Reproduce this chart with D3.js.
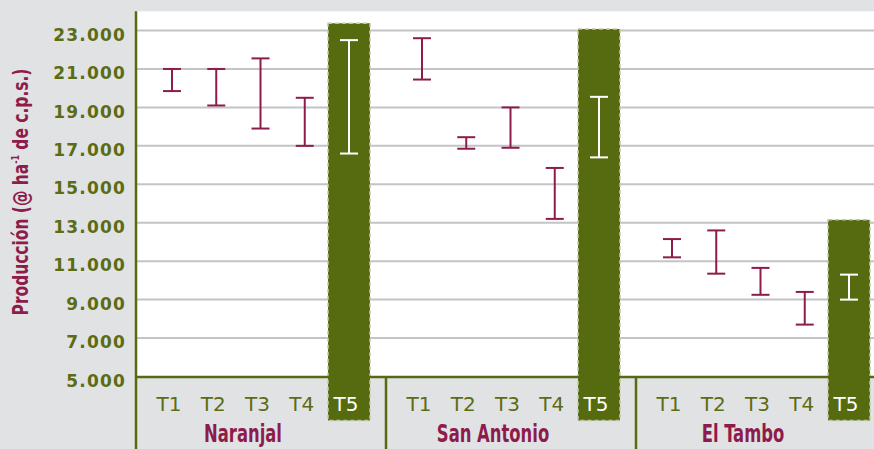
<!DOCTYPE html>
<html>
<head>
<meta charset="utf-8">
<script src="https://cdn.jsdelivr.net/npm/d3@7"></script>
<style>
  html, body { margin: 0; padding: 0; background: #e1e2e4; }
  svg { display: block; }
</style>
</head>
<body>
<svg id="chart" width="874" height="449"></svg>
<script>
// ---- data ----
const groups = ["Naranjal", "San Antonio", "El Tambo"];
const treatments = ["T1", "T2", "T3", "T4", "T5"];
// error-bar ranges [low, high] per group, per treatment (c.p.s. @ ha-1)
const lowNaranjal = [19850, 19100, 17900, 17000, 16600];
const highNaranjal = [21000, 21000, 21550, 19500, 22500];
const lowSanAntonio = [20450, 16850, 16900, 13200, 16400];
const highSanAntonio = [22600, 17450, 19000, 15850, 19550];
const lowElTambo = [11200, 10350, 9250, 7700, 9000];
const highElTambo = [12150, 12600, 10650, 9400, 10300];
// T5 column heights
const barT5 = [23380, 23080, 13150];
const yTicks = [5000, 7000, 9000, 11000, 13000, 15000, 17000, 19000, 21000, 23000];

const lows = [lowNaranjal, lowSanAntonio, lowElTambo];
const highs = [highNaranjal, highSanAntonio, highElTambo];

// ---- styles ----
const OLIVE = "#566b10";
const OLIVE_TXT = "#5b6c15";
const CRIMSON = "#8d1c4b";
const GRID = "#c4c4c8";
const BG = "#e1e2e4";
const COND = "Liberation Sans Narrow, DejaVu Sans Condensed, sans-serif";

const W = 874, H = 449;
const axisX = 136;
const svg = d3.select("#chart");

const y = d3.scaleLinear().domain([5000, 24000]).range([376.5, 11.3]);
const xGroup = d3.scaleBand().domain(groups).range([axisX, axisX + 750]).padding(0);
const xT = d3.scalePoint().domain(treatments).range([36, 213]);

const baseY = y(5000);
const barBottom = baseY + 44;

// background
svg.append("rect").attr("width", W).attr("height", H).attr("fill", BG);
// plot area
svg.append("rect")
  .attr("x", axisX).attr("y", y(24000))
  .attr("width", W - axisX).attr("height", baseY - y(24000))
  .attr("fill", "#ffffff");

// gridlines
svg.append("g").selectAll("line")
  .data(yTicks.filter(d => d > 5000))
  .join("line")
  .attr("x1", axisX).attr("x2", W)
  .attr("y1", d => y(d)).attr("y2", d => y(d))
  .attr("stroke", GRID).attr("stroke-width", 2);

// y tick labels
svg.append("g").selectAll("text")
  .data(yTicks)
  .join("text")
  .attr("x", 126)
  .attr("y", d => y(d) + 4)
  .attr("dy", "0.36em")
  .attr("text-anchor", "end")
  .attr("font-family", "DejaVu Sans")
  .attr("font-weight", "bold")
  .attr("font-size", 17)
  .attr("letter-spacing", 1.2)
  .attr("fill", OLIVE_TXT)
  .text(d => d3.format(",")(d).replace(/,/g, "."));

// y title
svg.append("text")
  .attr("transform", `translate(28,192) rotate(-90) scale(0.8,1)`)
  .attr("text-anchor", "middle")
  .attr("font-family", COND)
  .attr("font-weight", "bold")
  .attr("font-size", 21.5)
  .attr("fill", CRIMSON)
  .call(t => {
    t.append("tspan").text("Producción (@ ha");
    t.append("tspan").attr("font-size", 11).attr("dy", -9).text("-1");
    t.append("tspan").attr("dy", 9).text(" de c.p.s.)");
  });

// groups
groups.forEach((g, gi) => {
  const gx = xGroup(g);
  const G = svg.append("g").attr("transform", `translate(${gx},0)`);

  // T5 column
  G.append("rect")
    .attr("x", xT("T5") - 21)
    .attr("y", y(barT5[gi]))
    .attr("width", 42)
    .attr("height", barBottom - y(barT5[gi]))
    .attr("fill", OLIVE)
    .attr("stroke", "#c3c9a6")
    .attr("stroke-width", 1.5)
    .attr("stroke-dasharray", "4,3");

  // error bars
  treatments.forEach((t, ti) => {
    const cx = xT(t);
    const col = t === "T5" ? "#ffffff" : CRIMSON;
    const lo = y(lows[gi][ti]), hi = y(highs[gi][ti]);
    const eb = G.append("g").attr("stroke", col).attr("stroke-width", 2);
    eb.append("line").attr("x1", cx).attr("x2", cx).attr("y1", lo).attr("y2", hi);
    eb.append("line").attr("x1", cx - 9).attr("x2", cx + 9).attr("y1", lo).attr("y2", lo);
    eb.append("line").attr("x1", cx - 9).attr("x2", cx + 9).attr("y1", hi).attr("y2", hi);
  });

  // treatment labels
  G.selectAll("text.tl")
    .data(treatments)
    .join("text")
    .attr("class", "tl")
    .attr("x", d => xT(d) - 3)
    .attr("y", baseY + 34.5)
    .attr("text-anchor", "middle")
    .attr("font-family", "DejaVu Sans")
    .attr("font-size", 20)
    .attr("fill", d => d === "T5" ? "#ffffff" : OLIVE_TXT)
    .text(d => d);

  // group label
  G.append("text")
    .attr("transform", `translate(107,${baseY + 65.5}) scale(0.73,1)`)
    .attr("text-anchor", "middle")
    .attr("font-family", COND)
    .attr("font-weight", "bold")
    .attr("font-size", 25)
    .attr("fill", CRIMSON)
    .text(g);

  // separator
  if (gi > 0) {
    G.append("line")
      .attr("x1", 0).attr("x2", 0)
      .attr("y1", baseY).attr("y2", H)
      .attr("stroke", OLIVE).attr("stroke-width", 2.5);
  }
});

// axes lines
svg.append("line")
  .attr("x1", axisX - 1).attr("x2", W)
  .attr("y1", baseY + 0.5).attr("y2", baseY + 0.5)
  .attr("stroke", OLIVE).attr("stroke-width", 2.5);
svg.append("line")
  .attr("x1", axisX).attr("x2", axisX)
  .attr("y1", y(24000)).attr("y2", H)
  .attr("stroke", OLIVE).attr("stroke-width", 2.5);
</script>
</body>
</html>
